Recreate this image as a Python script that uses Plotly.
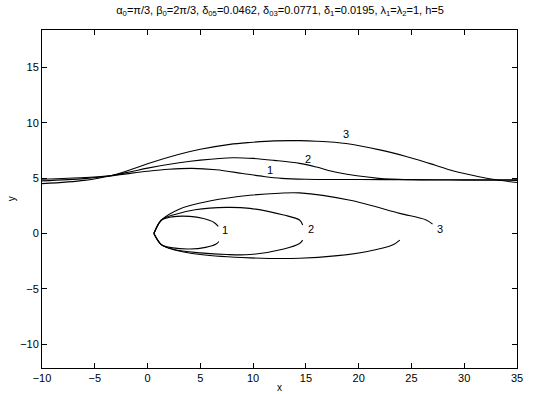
import plotly.graph_objects as go

# free surfaces (upper curves)
surf1_x = [-10, -6, -3.5, -1.5, 0, 2, 4.2, 6.5, 9, 11, 12.7, 15, 20, 25, 30, 35]
surf1_y = [4.9, 5.05, 5.2, 5.45, 5.62, 5.8, 5.88, 5.75, 5.42, 5.15, 4.98, 4.9, 4.87, 4.86, 4.85, 4.85]
surf2_x = [-10, -6, -3.5, -1.5, 0, 3, 5, 8.1, 10, 12, 14.4, 16, 18, 21.9, 25, 30, 35]
surf2_y = [4.75, 4.95, 5.22, 5.6, 5.9, 6.38, 6.62, 6.84, 6.78, 6.6, 6.33, 6.0, 5.5, 4.98, 4.85, 4.82, 4.8]
surf3_x = [-10, -6, -3.5, -1.5, 0, 3, 5.0, 7.8, 9.7, 12, 14.4, 16, 18.8, 22, 24.5, 26.7, 29, 31.4, 33, 35]
surf3_y = [4.5, 4.8, 5.22, 5.8, 6.3, 7.15, 7.6, 8.05, 8.22, 8.36, 8.38, 8.33, 8.12, 7.55, 6.95, 6.33, 5.65, 5.13, 4.85, 4.6]

# cavity contours (upper and lower branches from the nose)
cav1_up_x = [0.6, 1.3, 2.3, 4.0, 5.3, 6.3, 6.7]
cav1_up_y = [0.0, 1.2, 1.5, 1.55, 1.35, 1.0, 0.65]
cav1_lo_x = [0.6, 1.3, 2.4, 4.0, 5.5, 6.5, 6.75]
cav1_lo_y = [0.0, -1.0, -1.3, -1.4, -1.25, -0.95, -0.72]
cav2_up_x = [0.6, 1.3, 2.5, 4.5, 7.5, 9.7, 12.9, 14.4, 14.7]
cav2_up_y = [0.0, 1.2, 1.7, 2.15, 2.36, 2.27, 1.67, 1.22, 0.77]
cav2_lo_x = [0.6, 1.3, 2.5, 5.0, 7.5, 9.7, 12.9, 14.4, 14.7]
cav2_lo_y = [0.0, -1.0, -1.45, -1.75, -1.9, -1.9, -1.4, -0.9, -0.6]
cav3_up_x = [0.6, 1.3, 3.0, 6.0, 9.7, 12.5, 14.4, 19.2, 23.9, 26.4, 27.0]
cav3_up_y = [0.0, 1.2, 2.2, 2.95, 3.45, 3.64, 3.67, 3.0, 1.82, 1.22, 0.85]
cav3_lo_x = [0.6, 1.3, 2.5, 5.0, 9.7, 14.4, 18.0, 20.7, 23.2, 23.9]
cav3_lo_y = [0.0, -1.0, -1.47, -1.9, -2.2, -2.24, -2.0, -1.64, -1.04, -0.59]

labels = ["1", "2", "3"]
cav_lab_x = [7.3, 15.5, 27.7]
cav_lab_y = [0.3, 0.45, 0.4]
surf_lab_x = [11.6, 15.2, 18.8]
surf_lab_y = [5.73, 6.72, 8.98]

x_ticks = [-10, -5, 0, 5, 10, 15, 20, 25, 30, 35]
y_ticks = [-10, -5, 0, 5, 10, 15]

FONT = "Liberation Sans, Arial"

fig = go.Figure()
for xs, ys in [(surf1_x, surf1_y), (surf2_x, surf2_y), (surf3_x, surf3_y),
               (cav1_up_x, cav1_up_y), (cav1_lo_x, cav1_lo_y),
               (cav2_up_x, cav2_up_y), (cav2_lo_x, cav2_lo_y),
               (cav3_up_x, cav3_up_y), (cav3_lo_x, cav3_lo_y)]:
    fig.add_trace(go.Scatter(x=xs, y=ys, mode="lines",
                             line=dict(color="black", width=1.1, shape="spline", smoothing=0.9),
                             showlegend=False, hoverinfo="skip"))

for t, x, y in zip(labels, cav_lab_x, cav_lab_y):
    fig.add_annotation(x=x, y=y, text=t, showarrow=False, xanchor="center", yanchor="middle",
                       font=dict(size=11, color="black", family=FONT))
for t, x, y in zip(labels, surf_lab_x, surf_lab_y):
    fig.add_annotation(x=x, y=y, text=t, showarrow=False, xanchor="center", yanchor="middle",
                       font=dict(size=11, color="black", family=FONT))

# axis titles
fig.add_annotation(xref="paper", yref="paper", x=0.5, y=-0.0765, text="x", showarrow=False,
                   xanchor="center", yanchor="bottom", borderpad=0,
                   font=dict(size=10, color="black", family=FONT))
fig.add_annotation(xref="paper", yref="paper", x=-0.065, y=0.5, text="y", showarrow=False, textangle=-90,
                   xanchor="center", yanchor="middle", font=dict(size=10, color="black", family=FONT))

axis_common = dict(showgrid=False, zeroline=False, showline=True, linecolor="black", linewidth=1,
                   mirror="ticks", ticks="inside", ticklen=5, tickcolor="black", automargin=False,
                   tickfont=dict(size=11, color="black", family=FONT))

fig.update_layout(
    width=547, height=394,
    margin=dict(l=42, r=30, t=30, b=26),
    paper_bgcolor="white", plot_bgcolor="white",
    title=dict(text="α<sub>0</sub>=π/3, β<sub>0</sub>=2π/3, δ<sub>05</sub>=0.0462, δ<sub>03</sub>=0.0771, "
                    "δ<sub>1</sub>=0.0195, λ<sub>1</sub>=λ<sub>2</sub>=1, h=5",
               x=0.512, xanchor="center", y=0.985, yanchor="top",
               font=dict(size=11, color="black", family=FONT)),
    xaxis=dict(range=[-10, 35], tickvals=x_ticks,
               ticktext=[str(v).replace("-", "\u2212") for v in x_ticks],
               **axis_common),
    yaxis=dict(range=[-12.14, 18.37], tickvals=y_ticks,
               ticktext=[str(v).replace("-", "\u2212") for v in y_ticks],
               **axis_common),
)

fig.write_html("out.html", config={"displayModeBar": False},
               post_script="document.body.style.margin='0';")
